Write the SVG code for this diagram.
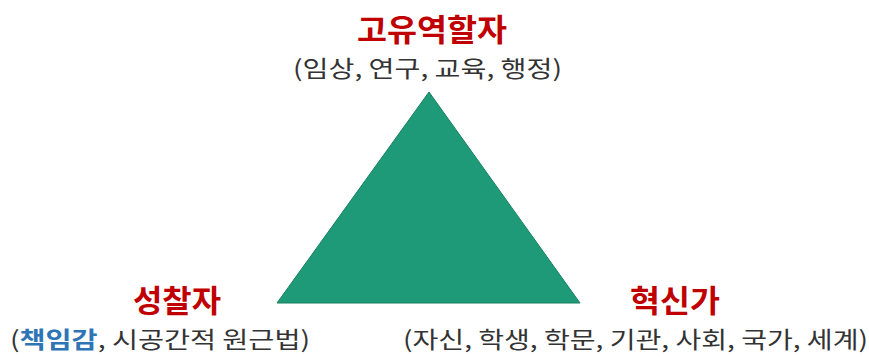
<svg xmlns="http://www.w3.org/2000/svg" width="869" height="357" viewBox="0 0 869 357">
<style>
.t{font-family:"Noto Sans CJK KR","Noto Sans",sans-serif;font-weight:bold;fill:#c00000;font-size:31px}
.s{font-family:"Noto Sans CJK KR","Noto Sans",sans-serif;fill:#333;font-size:23px}
.b{font-weight:bold;fill:#2e75b6}
</style>
<rect width="869" height="357" fill="#fff"/>
<g id="triangle">
<polygon points="429,92 277,303 580,303" fill="#1e9a78" stroke="#17805f" stroke-width="1"/>
</g>
<g id="top">
<text class="t" x="357" y="41" textLength="150" lengthAdjust="spacingAndGlyphs">고유역할자</text>
<text class="s" x="293" y="77" textLength="269" lengthAdjust="spacingAndGlyphs">(임상, 연구, 교육, 행정)</text>
</g>
<g id="left">
<text class="t" x="133" y="312" textLength="88" lengthAdjust="spacingAndGlyphs">성찰자</text>
<text class="s" x="10" y="348" textLength="300" lengthAdjust="spacingAndGlyphs">(<tspan class="b">책임감</tspan>, 시공간적 원근법)</text>
</g>
<g id="right">
<text class="t" x="630" y="312" textLength="90" lengthAdjust="spacingAndGlyphs">혁신가</text>
<text class="s" x="403" y="348" textLength="465" lengthAdjust="spacingAndGlyphs">(자신, 학생, 학문, 기관, 사회, 국가, 세계)</text>
</g>
<g id="connectors"></g>
</svg>
